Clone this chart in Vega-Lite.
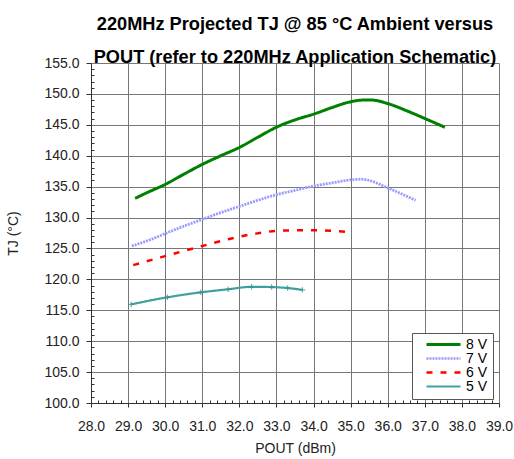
{
  "$schema": "https://vega.github.io/schema/vega-lite/v6.json",
  "width": 408,
  "height": 340,
  "autosize": {"type": "none"},
  "padding": {"left": 91, "top": 63, "right": 15, "bottom": 56},
  "background": "white",
  "title": {
    "text": ["220MHz Projected TJ @ 85 °C Ambient versus", "POUT (refer to 220MHz Application Schematic)"],
    "font": "Liberation Sans",
    "fontSize": 18.2,
    "fontWeight": "bold",
    "color": "black",
    "anchor": "middle",
    "frame": "group",
    "baseline": "bottom",
    "lineHeight": 33,
    "offset": 2,
    "dy": 31
  },
  "config": {
    "view": {"stroke": null},
    "axis": {
      "labelFont": "Liberation Sans",
      "titleFont": "Liberation Sans",
      "labelFontSize": 14,
      "titleFontSize": 14,
      "labelColor": "#222",
      "titleColor": "#222",
      "titleFontWeight": "normal",
      "domainColor": "#333",
      "tickColor": "#333",
      "gridColor": "#777",
      "gridOpacity": 1,
      "gridWidth": 1,
      "labelOverlap": false,
      "labelFlush": false
    }
  },
  "data": {
    "values": [
      {"series": "8 V", "pout": 29.19, "tj": 133.1},
      {"series": "8 V", "pout": 29.5, "tj": 134.0},
      {"series": "8 V", "pout": 29.98, "tj": 135.3},
      {"series": "8 V", "pout": 30.5, "tj": 137.0},
      {"series": "8 V", "pout": 31.0, "tj": 138.6},
      {"series": "8 V", "pout": 31.5, "tj": 140.0},
      {"series": "8 V", "pout": 32.02, "tj": 141.4},
      {"series": "8 V", "pout": 32.5, "tj": 143.0},
      {"series": "8 V", "pout": 33.03, "tj": 144.7},
      {"series": "8 V", "pout": 33.5, "tj": 145.8},
      {"series": "8 V", "pout": 34.04, "tj": 146.8},
      {"series": "8 V", "pout": 34.5, "tj": 147.8},
      {"series": "8 V", "pout": 34.98, "tj": 148.7},
      {"series": "8 V", "pout": 35.34, "tj": 149.0},
      {"series": "8 V", "pout": 35.57, "tj": 149.0},
      {"series": "8 V", "pout": 36.02, "tj": 148.4},
      {"series": "8 V", "pout": 36.5, "tj": 147.3},
      {"series": "8 V", "pout": 37.01, "tj": 146.0},
      {"series": "8 V", "pout": 37.54, "tj": 144.6},
      {"series": "7 V", "pout": 29.1, "tj": 125.4},
      {"series": "7 V", "pout": 29.5, "tj": 126.2},
      {"series": "7 V", "pout": 30.0, "tj": 127.4},
      {"series": "7 V", "pout": 30.5, "tj": 128.6},
      {"series": "7 V", "pout": 31.0, "tj": 129.7},
      {"series": "7 V", "pout": 31.5, "tj": 130.8},
      {"series": "7 V", "pout": 32.0, "tj": 131.8},
      {"series": "7 V", "pout": 32.5, "tj": 132.8},
      {"series": "7 V", "pout": 33.0, "tj": 133.7},
      {"series": "7 V", "pout": 33.5, "tj": 134.4},
      {"series": "7 V", "pout": 34.0, "tj": 135.1},
      {"series": "7 V", "pout": 34.5, "tj": 135.6},
      {"series": "7 V", "pout": 35.0, "tj": 136.1},
      {"series": "7 V", "pout": 35.3, "tj": 136.2},
      {"series": "7 V", "pout": 35.5, "tj": 136.0},
      {"series": "7 V", "pout": 36.0, "tj": 134.8},
      {"series": "7 V", "pout": 36.75, "tj": 132.8},
      {"series": "6 V", "pout": 29.14, "tj": 122.3},
      {"series": "6 V", "pout": 29.9, "tj": 123.6},
      {"series": "6 V", "pout": 30.5, "tj": 124.6},
      {"series": "6 V", "pout": 31.0, "tj": 125.4},
      {"series": "6 V", "pout": 31.7, "tj": 126.5},
      {"series": "6 V", "pout": 32.44, "tj": 127.4},
      {"series": "6 V", "pout": 33.18, "tj": 127.9},
      {"series": "6 V", "pout": 33.93, "tj": 127.95},
      {"series": "6 V", "pout": 34.67, "tj": 127.8},
      {"series": "6 V", "pout": 35.05, "tj": 127.5},
      {"series": "5 V", "pout": 29.08, "tj": 115.95},
      {"series": "5 V", "pout": 30.06, "tj": 117.1},
      {"series": "5 V", "pout": 30.96, "tj": 117.9},
      {"series": "5 V", "pout": 31.7, "tj": 118.4},
      {"series": "5 V", "pout": 32.33, "tj": 118.8},
      {"series": "5 V", "pout": 32.87, "tj": 118.75},
      {"series": "5 V", "pout": 33.3, "tj": 118.6},
      {"series": "5 V", "pout": 33.7, "tj": 118.3}
    ]
  },
  "layer": [
    {
      "mark": {"type": "line", "interpolate": "monotone", "clip": true},
      "encoding": {
        "x": {
          "field": "pout", "type": "quantitative",
          "scale": {"domain": [28, 39], "nice": false, "zero": false},
          "axis": {
            "title": "POUT (dBm)",
            "values": [28, 29, 30, 31, 32, 33, 34, 35, 36, 37, 38, 39],
            "format": ".1f",
            "grid": true,
            "tickSize": 4,
            "labelPadding": 12,
            "titlePadding": 8
          }
        },
        "y": {
          "field": "tj", "type": "quantitative",
          "scale": {"domain": [100, 155], "nice": false, "zero": false},
          "axis": {
            "title": "TJ (°C)",
            "values": [100, 105, 110, 115, 120, 125, 130, 135, 140, 145, 150, 155],
            "format": ".1f",
            "grid": true,
            "tickSize": 5,
            "labelPadding": 7,
            "titlePadding": 23
          }
        },
        "color": {
          "field": "series", "type": "nominal",
          "scale": {"domain": ["8 V", "7 V", "6 V", "5 V"], "range": ["#008000", "#9999ff", "#ff0000", "#40a0a0"]},
          "legend": {
            "title": null,
            "orient": "none",
            "legendX": 321,
            "legendY": 270,
            "fillColor": "white",
            "strokeColor": "#555",
            "padding": 5,
            "symbolType": "stroke",
            "symbolSize": 1156,
            "symbolOffset": 8,
            "labelOffset": 4,
            "clipHeight": 13,
            "rowPadding": -3,
            "labelFont": "Liberation Sans",
            "labelFontSize": 14,
            "labelColor": "black"
          }
        },
        "strokeDash": {
          "field": "series", "type": "nominal",
          "scale": {"domain": ["8 V", "7 V", "6 V", "5 V"], "range": [[1, 0], [2, 1], [6, 8], [1, 0]]},
          "legend": null
        },
        "strokeWidth": {
          "field": "series", "type": "nominal",
          "scale": {"domain": ["8 V", "7 V", "6 V", "5 V"], "range": [3, 2.2, 3, 1.5]},
          "legend": null
        }
      }
    },
    {
      "transform": [{"filter": "datum.series == '5 V'"}],
      "mark": {"type": "point", "shape": "M-1,0H1M0,-1V1", "filled": false, "size": 30, "strokeWidth": 1.2, "color": "#2f8f8f"},
      "encoding": {
        "x": {
          "field": "pout", "type": "quantitative",
          "axis": {
            "orient": "bottom",
            "title": null,
            "values": [28.2, 28.4, 28.6, 28.8, 29.2, 29.4, 29.6, 29.8, 30.2, 30.4, 30.6, 30.8, 31.2, 31.4, 31.6, 31.8, 32.2, 32.4, 32.6, 32.8, 33.2, 33.4, 33.6, 33.8, 34.2, 34.4, 34.6, 34.8, 35.2, 35.4, 35.6, 35.8, 36.2, 36.4, 36.6, 36.8, 37.2, 37.4, 37.6, 37.8, 38.2, 38.4, 38.6, 38.8],
            "labels": false,
            "domain": false,
            "grid": false,
            "tickSize": -3
          }
        },
        "y": {
          "field": "tj", "type": "quantitative",
          "axis": {
            "orient": "left",
            "title": null,
            "values": [101, 102, 103, 104, 106, 107, 108, 109, 111, 112, 113, 114, 116, 117, 118, 119, 121, 122, 123, 124, 126, 127, 128, 129, 131, 132, 133, 134, 136, 137, 138, 139, 141, 142, 143, 144, 146, 147, 148, 149, 151, 152, 153, 154],
            "labels": false,
            "domain": false,
            "grid": false,
            "tickSize": -3
          }
        }
      }
    }
  ],
  "resolve": {"axis": {"x": "independent", "y": "independent"}}
}
